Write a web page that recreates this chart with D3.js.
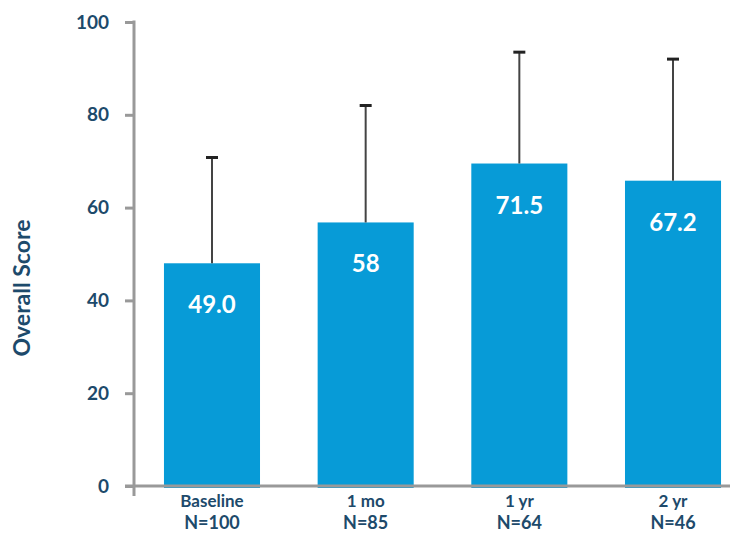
<!DOCTYPE html>
<html>
<head>
<meta charset="utf-8">
<script src="https://cdn.jsdelivr.net/npm/d3@7"></script>
<style>
  body { margin: 0; background: #fff; }
  text { font-family: Lato, "Open Sans", sans-serif; font-weight: bold; }
</style>
</head>
<body>
<svg width="730" height="534"></svg>
<script>
var svg = d3.select("svg");

// data
var categories = ["Baseline", "1 mo", "1 yr", "2 yr"];
var sampleSizes = ["N=100", "N=85", "N=64", "N=46"];
var means = [48.0, 56.8, 69.5, 65.8];
var upperErr = [70.8, 82.0, 93.5, 92.0];
var valueLabels = ["49.0", "58", "71.5", "67.2"];
var yTicks = [0, 20, 40, 60, 80, 100];

var navy = "#1d4a6b",
  blue = "#079bd7",
  grey = "#999";

var x = d3
  .scaleBand()
  .domain(categories)
  .range([134, 751])
  .paddingInner(0.375)
  .paddingOuter(0.195);

var y = d3
  .scaleLinear()
  .domain([0, 100])
  .range([486, 22]);

// bars
svg
  .append("g")
  .selectAll("rect")
  .data(categories)
  .enter()
  .append("rect")
  .attr("x", d => x(d))
  .attr("width", x.bandwidth())
  .attr("y", (d, i) => y(means[i]))
  .attr("height", (d, i) => y(0) - y(means[i]) + 2)
  .attr("fill", blue);

// error bars (upper only)
var err = svg.append("g");
categories.forEach(function(d, i) {
  var cx = x(d) + x.bandwidth() / 2;
  err
    .append("line")
    .attr("x1", cx)
    .attr("x2", cx)
    .attr("y1", y(means[i]))
    .attr("y2", y(upperErr[i]))
    .attr("stroke", "#444")
    .attr("stroke-width", 2);
  err
    .append("line")
    .attr("x1", cx - 6)
    .attr("x2", cx + 6)
    .attr("y1", y(upperErr[i]))
    .attr("y2", y(upperErr[i]))
    .attr("stroke", "#222")
    .attr("stroke-width", 3);
});

// value labels inside bars
svg
  .append("g")
  .selectAll("text")
  .data(categories)
  .enter()
  .append("text")
  .attr("x", d => x(d) + x.bandwidth() / 2)
  .attr("y", (d, i) => y(means[i]) + 50)
  .attr("text-anchor", "middle")
  .attr("fill", "#fff")
  .attr("font-size", 24)
  .text((d, i) => valueLabels[i]);

// y axis
var yAxis = svg
  .append("g")
  .attr("transform", "translate(134,0)")
  .call(
    d3
      .axisLeft(y)
      .tickValues(yTicks)
      .tickSize(9)
      .tickSizeOuter(0)
      .tickPadding(16)
  );
yAxis.select(".domain").remove();
yAxis.selectAll(".tick line").attr("stroke", grey).attr("stroke-width", 3);
yAxis
  .selectAll(".tick text")
  .attr("fill", navy)
  .attr("font-size", 19)
  .attr("font-family", "Lato, sans-serif");
yAxis
  .append("line")
  .attr("x1", 0)
  .attr("x2", 0)
  .attr("y1", y(100) - 1.5)
  .attr("y2", y(0) + 10)
  .attr("stroke", grey)
  .attr("stroke-width", 3);

// x axis line
svg
  .append("line")
  .attr("x1", 125)
  .attr("x2", 730)
  .attr("y1", y(0))
  .attr("y2", y(0))
  .attr("stroke", grey)
  .attr("stroke-width", 3);

// x labels, two lines each
var xLabels = svg.append("g");
xLabels
  .selectAll("text.cat")
  .data(categories)
  .enter()
  .append("text")
  .attr("class", "cat")
  .attr("x", d => x(d) + x.bandwidth() / 2)
  .attr("y", 507)
  .attr("text-anchor", "middle")
  .attr("fill", navy)
  .attr("font-size", 17)
  .text(d => d);
xLabels
  .selectAll("text.n")
  .data(categories)
  .enter()
  .append("text")
  .attr("class", "n")
  .attr("x", d => x(d) + x.bandwidth() / 2)
  .attr("y", 529)
  .attr("text-anchor", "middle")
  .attr("fill", navy)
  .attr("font-size", 18)
  .text((d, i) => sampleSizes[i]);

// y title
svg
  .append("text")
  .attr("transform", "translate(30,288) rotate(-90)")
  .attr("text-anchor", "middle")
  .attr("fill", navy)
  .attr("font-size", 23)
  .text("Overall Score");
</script>
</body>
</html>
